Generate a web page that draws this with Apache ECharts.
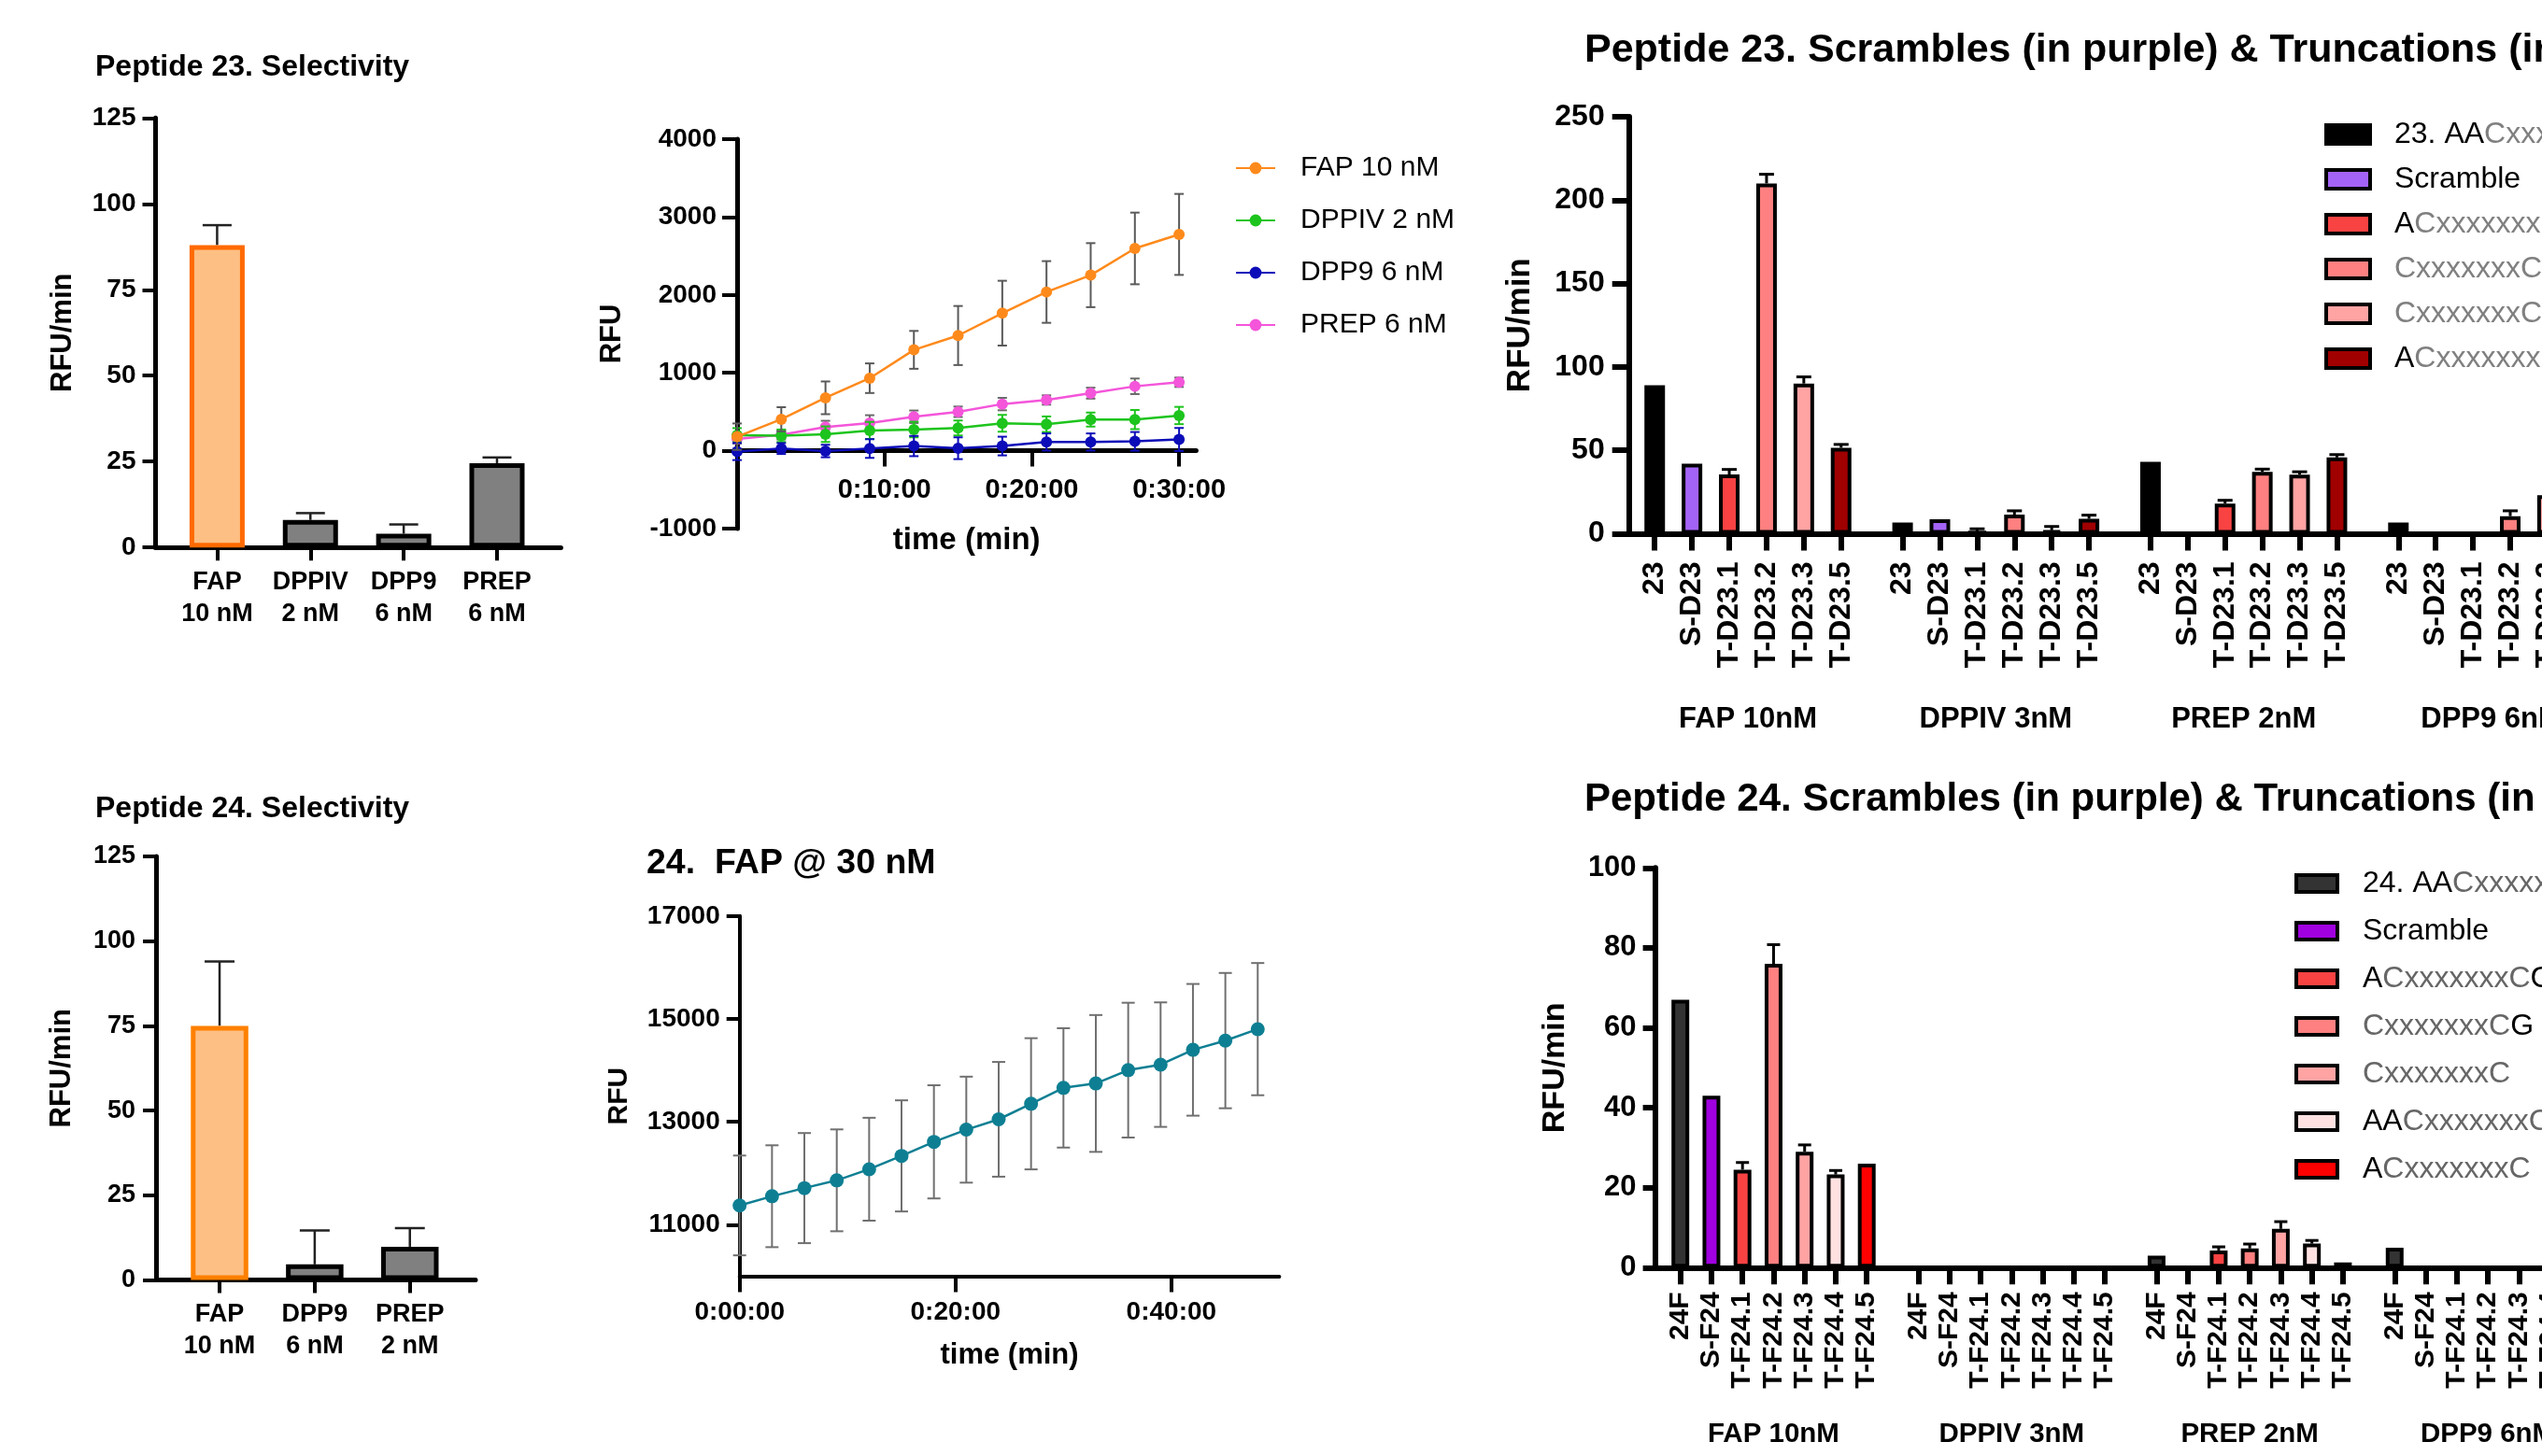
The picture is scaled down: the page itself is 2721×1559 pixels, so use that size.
<!DOCTYPE html>
<html>
<head>
<meta charset="utf-8">
<script src="https://cdn.jsdelivr.net/npm/echarts@6/dist/echarts.min.js"></script>
<style>
html, body { margin: 0; padding: 0; background: #fff; }
#chart { width: 2721px; height: 1559px; }
</style>
</head>
<body>
<div id="chart"></div>
<script>
// ---------- data ----------
// Peptide 23 selectivity (RFU/min)
const sel23Labels = ['FAP\n10 nM', 'DPPIV\n2 nM', 'DPP9\n6 nM', 'PREP\n6 nM'];
const sel23Values = [88, 8, 4, 24.5];
const sel23Err = [5.8, 2, 2.7, 1.7];

// Peptide 24 selectivity (RFU/min)
const sel24Labels = ['FAP\n10 nM', 'DPP9\n6 nM', 'PREP\n2 nM'];
const sel24Values = [75, 4.6, 9.8];
const sel24Err = [19, 10, 5.5];

// Peptide 23 kinetics, time in minutes
const kinTime = [0, 3, 6, 9, 12, 15, 18, 21, 24, 27, 30];
const kinFap = [180, 404, 679, 931, 1295, 1479, 1766, 2038, 2254, 2597, 2777];
const kinFapErr = [170, 155, 210, 190, 243, 379, 416, 396, 411, 460, 520];
const kinDppiv = [200, 192, 212, 260, 272, 292, 352, 340, 400, 400, 452];
const kinDppivErr = [90, 80, 100, 110, 100, 96, 108, 100, 90, 123, 111];
const kinDpp9 = [-10, 28, -4, 28, 60, 32, 60, 112, 112, 120, 144];
const kinDpp9Err = [110, 70, 80, 120, 130, 140, 120, 110, 110, 120, 148];
const kinPrep = [152, 204, 304, 356, 436, 500, 599, 651, 739, 827, 879];
const kinPrepErr = [60, 60, 80, 100, 80, 67, 80, 60, 70, 100, 60];
const kinNames = ['FAP 10 nM', 'DPPIV 2 nM', 'DPP9 6 nM', 'PREP 6 nM'];

// Peptide 24, FAP @ 30 nM
const fapTime = [0, 3, 6, 9, 12, 15, 18, 21, 24, 27, 30, 33, 36, 39, 42, 45, 48];
const fapRfu = [11374, 11553, 11711, 11862, 12078, 12337, 12610, 12847, 13048, 13350,
                13659, 13745, 14004, 14111, 14399, 14578, 14801];
const fapErr = [970, 990, 1070, 990, 1000, 1080, 1100, 1030, 1115, 1275,
                1160, 1330, 1310, 1210, 1280, 1315, 1285];

// Peptide 23 scrambles & truncations
const groupNames = ['FAP 10nM', 'DPPIV 3nM', 'PREP 2nM', 'DPP9 6nM'];
const p23Labels = ['23', 'S-D23', 'T-D23.1', 'T-D23.2', 'T-D23.3', 'T-D23.5'];
const p23Fap = [89, 42, 35.5, 210, 90, 51.5];
const p23FapErr = [0, 0, 3, 5.5, 4, 2];
const p23Dppiv = [6.6, 8.6, 1.4, 11.4, 2, 8.9];
const p23DppivErr = [0, 0, 1.5, 2.3, 2.3, 2.2];
const p23Prep = [43, 0, 18, 37, 35.4, 45.7];
const p23PrepErr = [0, 0, 2, 1.7, 1.7, 1.7];
const p23Dpp9 = [6.6, 0, 0, 10.5, 23, null];
const p23Dpp9Err = [0, 0, 0, 3.2, 0, 0];
const p23Colors = ['#000000', '#A463F7', '#F94343', '#FF8080', '#FFA3A3', '#A00000'];
const p23Legend = ['{k|23. AA}{g|CxxxxxxxC}{k|G}', '{k|Scramble}', '{k|A}{g|CxxxxxxxC}{k|G}',
                   '{g|CxxxxxxxC}{k|G}', '{g|CxxxxxxxC}', '{k|A}{g|CxxxxxxxC}'];

// Peptide 24 scrambles & truncations
const p24Labels = ['24F', 'S-F24', 'T-F24.1', 'T-F24.2', 'T-F24.3', 'T-F24.4', 'T-F24.5'];
const p24Fap = [67, 43, 24.5, 76, 29, 23.3, 26];
const p24FapErr = [0, 0, 1.8, 4.8, 1.7, 1, 0];
const p24Dppiv = [0, 0, 0, 0, 0, 0, 0];
const p24DppivErr = [0, 0, 0, 0, 0, 0, 0];
const p24Prep = [3, 0, 4.3, 4.8, 9.7, 6, 1.3];
const p24PrepErr = [0, 0, 0.9, 1.1, 1.8, 0.8, 0];
const p24Dpp9 = [5, 0, 0, 0, 0, null, null];
const p24Dpp9Err = [0, 0, 0, 0, 0, 0, 0];
const p24Colors = ['#333333', '#A000E0', '#F94343', '#FF8080', '#FFA3A3', '#FFE1E1', '#FF0000'];
const p24Legend = ['{k|24. AA}{g|CxxxxxxxC}{k|G}', '{k|Scramble}', '{k|A}{g|CxxxxxxxC}{k|G}',
                   '{g|CxxxxxxxC}{k|G}', '{g|CxxxxxxxC}', '{k|AA}{g|CxxxxxxxC}', '{k|A}{g|CxxxxxxxC}'];

// ---------- helpers ----------
const FONT = "'Liberation Sans', Arial, Helvetica, sans-serif";
const C_STEP = 6.65;   // slots between enzyme groups, peptide 23
const D_STEP = 7.665;  // slots between enzyme groups, peptide 24
const plain = v => String(v);

function axis(p) {
  const a = {
    type: 'value', gridIndex: p.grid, min: p.min, max: p.max,
    splitLine: { show: false },
    axisLine: { show: p.noLine ? false : true, onZero: false, lineStyle: { color: '#000', width: p.lineW || 5 } },
    axisTick: { show: !!p.tickLen, length: p.tickLen || 0, lineStyle: { color: '#000', width: p.tickW || 4 } },
    axisLabel: { color: '#000', fontFamily: FONT, fontWeight: 'bold', fontSize: p.labelSize,
                 margin: p.margin, rotate: p.rotate || 0 }
  };
  if (p.lineHeight) a.axisLabel.lineHeight = p.lineHeight;
  if (p.formatter) a.axisLabel.formatter = p.formatter;
  if (p.interval) a.interval = p.interval;
  if (p.ticks) { a.axisTick.customValues = p.ticks; a.axisLabel.customValues = p.ticks; }
  if (p.position) a.position = p.position;
  if (p.offset) a.offset = p.offset;
  if (p.name) {
    a.name = p.name; a.nameLocation = 'middle'; a.nameGap = p.nameGap;
    if (p.nameRotate) a.nameRotate = p.nameRotate;
    a.nameTextStyle = { color: '#000', fontFamily: FONT, fontWeight: 'bold', fontSize: p.nameSize };
  }
  return a;
}

function nearestLabel(list, v) {
  let best = list[0];
  list.forEach(it => { if (Math.abs(it.pos - v) < Math.abs(best.pos - v)) best = it; });
  return best.label;
}

function errRender(capHalf, both, color, width) {
  return function (params, api) {
    const x = api.value(0), y = api.value(1), e = api.value(2);
    const top = api.coord([x, y + e]);
    const bot = api.coord([x, both ? y - e : y]);
    const style = { stroke: color, lineWidth: width };
    const kids = [
      { type: 'line', shape: { x1: top[0], y1: top[1], x2: bot[0], y2: bot[1] }, style },
      { type: 'line', shape: { x1: top[0] - capHalf, y1: top[1], x2: top[0] + capHalf, y2: top[1] }, style }
    ];
    if (both) kids.push({ type: 'line', shape: { x1: bot[0] - capHalf, y1: bot[1], x2: bot[0] + capHalf, y2: bot[1] }, style });
    return { type: 'group', children: kids };
  };
}

function errSeries(xi, yi, data, capHalf, both, color, width, z) {
  return { type: 'custom', xAxisIndex: xi, yAxisIndex: yi, silent: true, z: z || 1,
           encode: { x: 0, y: 1 }, renderItem: errRender(capHalf, both, color, width), data };
}

// ---------- panel layout ----------
const grids = [
  { left: 166.5, top: 126.3, width: 433.9, height: 459.9 },   // A  peptide 23 selectivity
  { left: 167, top: 917, width: 342, height: 453.5 },         // A2 peptide 24 selectivity
  { left: 789, top: 149, width: 491.4, height: 417 },         // B  kinetics 23
  { left: 791.7, top: 980.8, width: 577.7, height: 385.6 },   // B2 FAP @ 30 nM
  { left: 1743.7, top: 125, width: 1065, height: 446.4 },     // C  peptide 23 scrambles
  { left: 1771.6, top: 929.3, width: 1024.6, height: 428 }    // D  peptide 24 scrambles
].map(g => Object.assign({ containLabel: false, outerBoundsMode: 'none' }, g));

// category positions for grouped bar panels
const p23Pos = [], p24Pos = [];
groupNames.forEach((gname, g) => {
  p23Labels.forEach((lab, i) => p23Pos.push({ pos: g * C_STEP + i, label: lab }));
  p24Labels.forEach((lab, i) => p24Pos.push({ pos: g * D_STEP + i, label: lab }));
});
const p23Groups = groupNames.map((n, g) => ({ pos: g * C_STEP + (p23Labels.length - 1) / 2, label: n }));
const p24Groups = groupNames.map((n, g) => ({ pos: g * D_STEP + (p24Labels.length - 1) / 2, label: n }));

const sel23Pos = sel23Labels.map((l, i) => ({ pos: i, label: l }));
const sel24Pos = sel24Labels.map((l, i) => ({ pos: i, label: l }));

const xAxes = [
  axis({ grid: 0, min: -0.66, max: 3.685, ticks: [0, 1, 2, 3], tickLen: 14, labelSize: 27, lineHeight: 34, margin: 20,
         formatter: v => nearestLabel(sel23Pos, v) }),
  axis({ grid: 1, min: -0.668, max: 2.69, ticks: [0, 1, 2], tickLen: 14, labelSize: 27, lineHeight: 34, margin: 20,
         formatter: v => nearestLabel(sel24Pos, v) }),
  // x axis of the kinetics panel crosses y at zero: lifted from the grid bottom (-1000) to 0
  axis({ grid: 2, min: 0, max: 31.16, offset: -83.4, ticks: [10, 20, 30], tickLen: 17, labelSize: 29, margin: 28,
         formatter: v => '0:' + Math.round(v) + ':00',
         name: 'time (min)', nameGap: 80, nameSize: 33 }),
  axis({ grid: 3, min: 0, max: 50, ticks: [0, 20, 40], tickLen: 17, lineW: 4, labelSize: 28, margin: 25,
         formatter: v => '0:' + (Math.round(v) < 10 ? '0' : '') + Math.round(v) + ':00',
         name: 'time (min)', nameGap: 70, nameSize: 31 }),
  axis({ grid: 4, min: -0.69, max: 26, ticks: p23Pos.map(p => p.pos), tickLen: 18, tickW: 6, lineW: 6,
         labelSize: 32, margin: 30, rotate: 90, formatter: v => nearestLabel(p23Pos, v) }),
  axis({ grid: 4, min: -0.69, max: 26, position: 'bottom', offset: 176, noLine: true,
         ticks: p23Groups.map(p => p.pos), labelSize: 31, margin: 8, formatter: v => nearestLabel(p23Groups, v) }),
  axis({ grid: 5, min: -0.815, max: 30, ticks: p24Pos.map(p => p.pos), tickLen: 18, tickW: 6, lineW: 6,
         labelSize: 30, margin: 26, rotate: 90, formatter: v => nearestLabel(p24Pos, v) }),
  axis({ grid: 5, min: -0.815, max: 30, position: 'bottom', offset: 156, noLine: true,
         ticks: p24Groups.map(p => p.pos), labelSize: 29.5, margin: 8, formatter: v => nearestLabel(p24Groups, v) })
];

const yAxes = [
  axis({ grid: 0, min: 0, max: 125, interval: 25, tickLen: 14, labelSize: 28, margin: 21,
         name: 'RFU/min', nameGap: 84, nameSize: 31, nameRotate: 90 }),
  axis({ grid: 1, min: 0, max: 125, interval: 25, tickLen: 14, labelSize: 27, margin: 22,
         name: 'RFU/min', nameGap: 85, nameSize: 31, nameRotate: 90 }),
  axis({ grid: 2, min: -1000, max: 4000, interval: 1000, tickLen: 16, labelSize: 28, margin: 22, formatter: plain,
         name: 'RFU', nameGap: 118, nameSize: 31, nameRotate: 90 }),
  axis({ grid: 3, min: 10000, max: 17000, ticks: [11000, 13000, 15000, 17000], tickLen: 14, lineW: 4,
         labelSize: 28, margin: 21, formatter: plain, name: 'RFU', nameGap: 114, nameSize: 30, nameRotate: 90 }),
  axis({ grid: 4, min: 0, max: 250, interval: 50, tickLen: 18, tickW: 6, lineW: 6, labelSize: 32, margin: 26,
         name: 'RFU/min', nameGap: 99, nameSize: 35, nameRotate: 90 }),
  axis({ grid: 5, min: 0, max: 100, interval: 20, tickLen: 13, tickW: 6, lineW: 6, labelSize: 31, margin: 20,
         name: 'RFU/min', nameGap: 90, nameSize: 34, nameRotate: 90 })
];

const series = [];

// A: peptide 23 selectivity
series.push({
  type: 'bar', xAxisIndex: 0, yAxisIndex: 0, barWidth: 59, z: 3,
  data: sel23Values.map((v, i) => ({
    value: [i, v],
    itemStyle: i === 0 ? { color: '#FDBF83', borderColor: '#FF6A00', borderWidth: 5 }
                       : { color: '#808080', borderColor: '#000', borderWidth: 5 }
  }))
});
series.push(errSeries(0, 0, sel23Values.map((v, i) => [i, v, sel23Err[i]]), 15.5, false, '#222', 2.5));

// A2: peptide 24 selectivity
series.push({
  type: 'bar', xAxisIndex: 1, yAxisIndex: 1, barWidth: 61.5, z: 3,
  data: sel24Values.map((v, i) => ({
    value: [i, v],
    itemStyle: i === 0 ? { color: '#FDBF83', borderColor: '#FF8000', borderWidth: 5 }
                       : { color: '#808080', borderColor: '#000', borderWidth: 5 }
  }))
});
series.push(errSeries(1, 1, sel24Values.map((v, i) => [i, v, sel24Err[i]]), 16, false, '#222', 2.5));

// B: kinetics of peptide 23
const kinSets = [
  { vals: kinPrep, err: kinPrepErr, color: '#F455DA', errColor: '#6a6a6a', name: kinNames[3] },
  { vals: kinDppiv, err: kinDppivErr, color: '#1DC41D', errColor: '#1DC41D', name: kinNames[1] },
  { vals: kinDpp9, err: kinDpp9Err, color: '#0C0CB8', errColor: '#0C0CB8', name: kinNames[2] },
  { vals: kinFap, err: kinFapErr, color: '#FF8A1C', errColor: '#5a5a5a', name: kinNames[0] }
];
kinSets.forEach((s, k) => {
  series.push(errSeries(2, 2, kinTime.map((t, i) => [t, s.vals[i], s.err[i]]), 5, true, s.errColor, 2, 2 + k * 2));
  series.push({
    type: 'line', name: s.name, xAxisIndex: 2, yAxisIndex: 2, z: 3 + k * 2,
    data: kinTime.map((t, i) => [t, s.vals[i]]),
    symbol: 'circle', symbolSize: 12, showAllSymbol: true,
    itemStyle: { color: s.color }, lineStyle: { color: s.color, width: 2.5 }
  });
});

// B2: peptide 24 FAP @ 30 nM
series.push(errSeries(3, 3, fapTime.map((t, i) => [t, fapRfu[i], fapErr[i]]), 7, true, '#707070', 2));
series.push({
  type: 'line', xAxisIndex: 3, yAxisIndex: 3, z: 3,
  data: fapTime.map((t, i) => [t, fapRfu[i]]),
  symbol: 'circle', symbolSize: 15,
  itemStyle: { color: '#0E7F93' }, lineStyle: { color: '#0E7F93', width: 2.5 }
});

// C: peptide 23 scrambles & truncations
const p23Groups4 = [[p23Fap, p23FapErr], [p23Dppiv, p23DppivErr], [p23Prep, p23PrepErr], [p23Dpp9, p23Dpp9Err]];
p23Colors.forEach((col, i) => {
  series.push({
    type: 'bar', name: 'p23_' + i, xAxisIndex: 4, yAxisIndex: 4, barWidth: 22, barGap: '-100%', z: 3,
    itemStyle: { color: col, borderColor: '#000', borderWidth: 4 },
    data: p23Groups4.map((gv, g) => [g * C_STEP + i, gv[0][i]]).filter(d => d[1] !== null)
  });
});
const p23ErrData = [];
p23Groups4.forEach((gv, g) => gv[0].forEach((v, i) => {
  if (v !== null && gv[1][i] > 0) p23ErrData.push([g * C_STEP + i, v, gv[1][i]]);
}));
series.push(errSeries(4, 4, p23ErrData, 8, false, '#000', 3));

// D: peptide 24 scrambles & truncations
const p24Groups4 = [[p24Fap, p24FapErr], [p24Dppiv, p24DppivErr], [p24Prep, p24PrepErr], [p24Dpp9, p24Dpp9Err]];
p24Colors.forEach((col, i) => {
  series.push({
    type: 'bar', name: 'p24_' + i, xAxisIndex: 6, yAxisIndex: 5, barWidth: 19, barGap: '-100%', z: 3,
    itemStyle: { color: col, borderColor: '#000', borderWidth: 4 },
    data: p24Groups4.map((gv, g) => [g * D_STEP + i, gv[0][i]]).filter(d => d[1] !== null)
  });
});
const p24ErrData = [];
p24Groups4.forEach((gv, g) => gv[0].forEach((v, i) => {
  if (v !== null && gv[1][i] > 0) p24ErrData.push([g * D_STEP + i, v, gv[1][i]]);
}));
series.push(errSeries(6, 5, p24ErrData, 7, false, '#000', 3));

// ---------- titles & legends ----------
function title(text, left, top, size) {
  return { text, left, top, padding: 0,
           textStyle: { color: '#000', fontFamily: FONT, fontWeight: 'bold', fontSize: size } };
}

function richLegend(names, labels, left, top, w, h, gap, pad, grey) {
  const map = {};
  names.forEach((n, i) => { map[n] = labels[i]; });
  const base = { fontFamily: FONT, fontSize: 32, lineHeight: 40 };
  return {
    orient: 'vertical', left, top, itemWidth: w, itemHeight: h, itemGap: gap, icon: 'rect',
    selectedMode: false, data: names,
    itemStyle: { borderColor: '#000', borderWidth: 4 },
    formatter: n => map[n],
    textStyle: Object.assign({}, base, { padding: [0, 0, 0, pad],
      rich: { k: Object.assign({}, base, { color: '#000' }), g: Object.assign({}, base, { color: grey }) } })
  };
}

const option = {
  animation: false,
  backgroundColor: '#ffffff',
  textStyle: { fontFamily: FONT },
  title: [
    title('Peptide 23. Selectivity', 102, 56, 32),
    title('Peptide 24. Selectivity', 102, 850, 32),
    title('24.  FAP @ 30 nM', 692, 906, 37.5),
    title('Peptide 23. Scrambles (in purple) & Truncations (in red)', 1696, 33, 43),
    title('Peptide 24. Scrambles (in purple) & Truncations (in red)', 1696, 835, 42)
  ],
  legend: [
    {
      orient: 'vertical', left: 1317, top: 157, itemWidth: 42, itemHeight: 16, itemGap: 20,
      selectedMode: false, data: kinNames,
      textStyle: { color: '#000', fontFamily: FONT, fontSize: 30, lineHeight: 36, padding: [0, 0, 0, 22] }
    },
    richLegend(p23Colors.map((c, i) => 'p23_' + i), p23Legend, 2483, 119, 47, 20, 8, 21, '#808080'),
    richLegend(p24Colors.map((c, i) => 'p24_' + i), p24Legend, 2451, 921, 44, 18, 11, 22, '#666666')
  ],
  grid: grids,
  xAxis: xAxes,
  yAxis: yAxes,
  series: series
};

const chart = echarts.init(document.getElementById('chart'));
chart.setOption(option);
</script>
</body>
</html>
